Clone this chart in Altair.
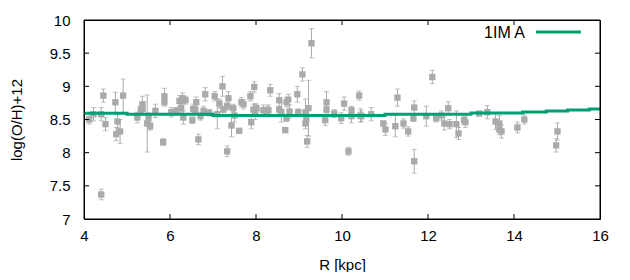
import altair as alt
import pandas as pd

# ---- data ----
R = [4.12, 4.22, 4.40, 4.45, 4.40, 4.50, 4.73, 4.78, 4.75, 4.84, 4.91, 5.24, 5.32, 5.36, 5.36,
     5.47, 5.50, 5.54, 5.66, 5.84, 5.87, 5.87, 6.03, 6.15, 6.22, 6.26, 6.29, 6.31, 6.36, 6.52,
     6.54, 6.59, 6.61, 6.66, 6.71, 6.78, 6.82, 6.91, 7.04,
     7.10, 7.15, 7.22, 7.24, 7.33, 7.36, 7.33, 7.43, 7.47, 7.50, 7.61, 7.66, 7.71, 7.87, 7.89,
     7.94, 7.96, 7.98, 8.01, 8.17, 8.26, 8.29, 8.33, 8.54, 8.54, 8.59, 8.68, 8.71, 8.71, 8.75,
     8.78, 8.96, 8.98, 9.08, 9.15, 9.15, 9.17, 9.19, 9.22, 9.29, 9.64, 9.64, 9.61, 9.82,
     9.98, 10.05, 10.15, 10.22, 10.22, 10.40, 10.43, 10.45, 10.68, 10.96, 11.01, 11.24, 11.29,
     11.43, 11.54, 11.66, 11.68, 11.68, 11.96, 12.10, 12.19, 12.31, 12.38, 12.47, 12.50, 12.66,
     12.71, 12.84,
     12.87, 13.19, 13.38, 13.57, 13.66, 13.66, 13.71, 14.08, 14.24, 14.98, 15.01]
OH = [8.50, 8.58, 8.58, 8.86, 7.37, 8.43, 8.76, 8.47, 8.28, 8.32, 8.86, 8.53, 8.65, 8.73, 8.66,
      8.44, 8.52, 8.40, 8.63, 8.16, 8.85, 8.76, 8.61, 8.63, 8.78, 8.67, 8.82, 8.53, 8.79, 8.49,
      8.66, 8.64, 8.76, 8.20, 8.55, 8.63, 8.88, 8.60, 8.85,
      8.58, 8.74, 9.00, 8.65, 8.70, 8.82, 8.02, 8.41, 8.67, 8.56, 8.33, 8.76, 8.73, 8.85, 8.46,
      8.65, 8.99, 8.62, 8.67, 8.64, 8.62, 8.64, 8.94, 8.79, 8.65, 8.61, 8.34, 8.76, 8.52, 8.80,
      8.62, 8.88, 8.61, 9.18, 8.61, 8.44, 8.50, 8.17, 8.67, 9.65, 8.76, 8.65, 8.49, 8.59,
      8.52, 8.74, 8.02, 8.64, 8.55, 8.86, 8.56, 8.55, 8.58, 8.44, 8.35, 8.40, 8.83,
      8.44, 8.32, 8.52, 8.68, 7.87, 8.55, 9.14, 8.52, 8.56, 8.44, 8.67, 8.43, 8.43,
      8.29, 8.49,
      8.46, 8.59, 8.61, 8.47, 8.44, 8.35, 8.32, 8.38, 8.50, 8.11, 8.32]
ERR = [0.07, 0.10, 0.10, 0.10, 0.08, 0.10, 0.15, 0.10, 0.10, 0.18, 0.25, 0.08, 0.06, 0.12, 0.08,
       0.43, 0.08, 0.06, 0.10, 0.05, 0.12, 0.06, 0.07, 0.05, 0.08, 0.06, 0.08, 0.10, 0.06, 0.05,
       0.07, 0.06, 0.08, 0.08, 0.06, 0.07, 0.10, 0.05, 0.07,
       0.22, 0.07, 0.15, 0.05, 0.06, 0.10, 0.08, 0.17, 0.06, 0.10, 0.03, 0.07, 0.07, 0.07, 0.10,
       0.08, 0.08, 0.12, 0.06, 0.08, 0.08, 0.08, 0.09, 0.10, 0.05, 0.15, 0.04, 0.07, 0.05, 0.08,
       0.10, 0.12, 0.05, 0.10, 0.20, 0.08, 0.05, 0.09, 0.42, 0.22, 0.16, 0.05, 0.08, 0.06,
       0.08, 0.10, 0.06, 0.06, 0.10, 0.07, 0.10, 0.08, 0.10, 0.04, 0.09, 0.16, 0.13,
       0.07, 0.07, 0.05, 0.10, 0.18, 0.15, 0.10, 0.06, 0.07, 0.10, 0.10, 0.07, 0.20,
       0.09, 0.06,
       0.08, 0.03, 0.10, 0.12, 0.12, 0.08, 0.10, 0.08, 0.07, 0.10, 0.13]

MODEL_R = [4.0, 5.0, 7.0, 11.0, 13.0, 14.2, 14.75, 15.25, 15.75, 16.0]
MODEL_OH = [8.593, 8.578, 8.562, 8.578, 8.598, 8.613, 8.628, 8.643, 8.658, 8.658]

X_TICKS = [4, 6, 8, 10, 12, 14, 16]
Y_TICKS = [7, 7.5, 8, 8.5, 9, 9.5, 10]
LEGEND_LABEL = "1IM A"

GRAY = "#aaaaaa"
GREEN = "#009e73"
FONT = "Liberation Sans"
W, H, TICK_LEN = 516, 199, 5

obs = pd.DataFrame({"R": R, "OH": OH, "err": ERR})
obs["lo"] = obs["OH"] - obs["err"]
obs["hi"] = obs["OH"] + obs["err"]
model = pd.DataFrame({"R": MODEL_R, "OH": MODEL_OH})

X0, X1 = X_TICKS[0], X_TICKS[-1]
Y0, Y1 = Y_TICKS[0], Y_TICKS[-1]
xs = alt.Scale(domain=[X0, X1], nice=False, zero=False)
ys = alt.Scale(domain=[Y0, Y1], nice=False, zero=False)

main_x = alt.Axis(values=X_TICKS, ticks=False, domain=False, grid=False, labelFontSize=15,
                  labelFont=FONT, labelColor="black", labelPadding=9, labelFlush=False,
                  title="R [kpc]", titleFont=FONT, titleFontSize=15, titleFontWeight="normal",
                  titleColor="black", titlePadding=14, orient="bottom")
main_y = alt.Axis(values=Y_TICKS, ticks=False, domain=False, grid=False, labelFontSize=15,
                  labelFont=FONT, labelColor="black", labelPadding=14, labelFlush=False,
                  labelExpr="'' + datum.value", title="log(O/H)+12", titleFont=FONT,
                  titleFontSize=15, titleFontWeight="normal", titleColor="black",
                  titleX=-68, titleBaseline="middle", orient="left")

base = alt.Chart(obs)

err = base.mark_rule(color=GRAY, strokeWidth=1).encode(
    x=alt.X("R:Q", scale=xs, axis=main_x),
    y=alt.Y("lo:Q", scale=ys, axis=main_y),
    y2="hi:Q",
)
cap_lo = base.mark_tick(color=GRAY, size=5, thickness=1, orient="horizontal").encode(
    x=alt.X("R:Q", scale=xs, axis=None), y=alt.Y("lo:Q", scale=ys, axis=None))
cap_hi = base.mark_tick(color=GRAY, size=5, thickness=1, orient="horizontal").encode(
    x=alt.X("R:Q", scale=xs, axis=None), y=alt.Y("hi:Q", scale=ys, axis=None))
pts = base.mark_point(shape="square", filled=True, size=40, color=GRAY, opacity=1).encode(
    x=alt.X("R:Q", scale=xs, axis=None), y=alt.Y("OH:Q", scale=ys, axis=None))

line = alt.Chart(model).mark_line(color=GREEN, strokeWidth=3, interpolate="step-after").encode(
    x=alt.X("R:Q", scale=xs, axis=None), y=alt.Y("OH:Q", scale=ys, axis=None))

leg_df = pd.DataFrame({"label": [LEGEND_LABEL]})
leg_text = alt.Chart(leg_df).mark_text(align="right", baseline="alphabetic", font=FONT,
                                       fontSize=16, color="black").encode(
    text="label:N", x=alt.value(441), y=alt.value(18))
leg_line = alt.Chart(leg_df).mark_rule(color=GREEN, strokeWidth=3).encode(
    x=alt.value(452), x2=alt.value(497), y=alt.value(12))

# plot frame spanning the axis ranges
frame_df = pd.DataFrame({"x0": [X0], "x1": [X1], "y0": [Y0], "y1": [Y1]})
frame = alt.Chart(frame_df).mark_rect(filled=False, stroke="black", strokeWidth=1).encode(
    x=alt.X("x0:Q", scale=xs, axis=None), x2="x1:Q",
    y=alt.Y("y0:Q", scale=ys, axis=None), y2="y1:Q")

# inward border ticks (gnuplot style): from the frame edge, TICK_LEN px inwards
xt = pd.DataFrame({"t": X_TICKS[1:-1], "lo": Y0, "hi": Y1})
yt = pd.DataFrame({"t": Y_TICKS[1:-1], "lo": X0, "hi": X1})
RK = dict(color="black", strokeWidth=1)
tb = alt.Chart(xt).mark_rule(**RK).encode(
    x=alt.X("t:Q", scale=xs, axis=None), y=alt.Y("lo:Q", scale=ys, axis=None),
    y2=alt.value(H - TICK_LEN))
tt = alt.Chart(xt).mark_rule(**RK).encode(
    x=alt.X("t:Q", scale=xs, axis=None), y=alt.Y("hi:Q", scale=ys, axis=None),
    y2=alt.value(TICK_LEN))
tl = alt.Chart(yt).mark_rule(**RK).encode(
    y=alt.Y("t:Q", scale=ys, axis=None), x=alt.X("lo:Q", scale=xs, axis=None),
    x2=alt.value(TICK_LEN))
tr = alt.Chart(yt).mark_rule(**RK).encode(
    y=alt.Y("t:Q", scale=ys, axis=None), x=alt.X("hi:Q", scale=xs, axis=None),
    x2=alt.value(W - TICK_LEN))

chart = alt.layer(err, cap_lo, cap_hi, pts, line, leg_text, leg_line, frame,
                  tb, tt, tl, tr).resolve_axis(
    x="independent", y="independent"
).properties(
    width=W, height=H,
    autosize=alt.AutoSizeParams(type="none"),
    padding={"left": 76, "top": 12, "right": 22, "bottom": 53},
    background="white",
).configure_view(stroke="black", strokeWidth=1)

chart.save("out.html", embed_options={"renderer": "svg", "actions": False})
